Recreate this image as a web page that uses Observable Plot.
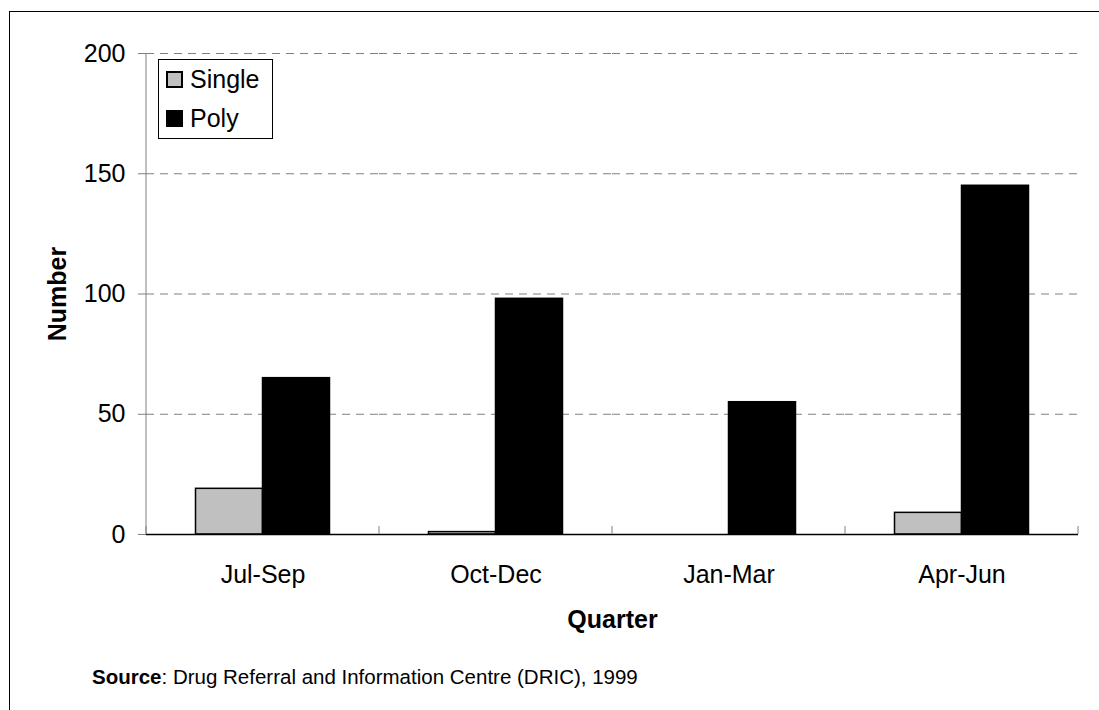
<!DOCTYPE html>
<html>
<head>
<meta charset="utf-8">
<script src="https://cdn.jsdelivr.net/npm/d3@7"></script>
<script src="https://cdn.jsdelivr.net/npm/@observablehq/plot@0.6"></script>
<style>
  html, body { margin: 0; padding: 0; background: #fff; overflow: hidden; }
  body { width: 1099px; height: 710px; position: relative; font-family: 'Liberation Sans', Arial, sans-serif; color: #000; }
  #border { position: absolute; left: 9px; top: 11px; width: 1300px; height: 900px; border: 1px solid #000; box-sizing: border-box; }
  #chart { position: absolute; left: 0; top: 0; }
  #legend { position: absolute; left: 158px; top: 59px; width: 115px; height: 80px; box-sizing: border-box; border: 1px solid #000; background: #fff; font-size: 25px; }
  .lrow { display: flex; align-items: center; height: 39px; }
  .sw { width: 17px; height: 17px; box-sizing: border-box; border: 2px solid #000; margin-left: 7px; margin-right: 7px; }
  #caption { position: absolute; left: 92px; top: 667px; font-size: 20.5px; line-height: 20px; white-space: nowrap; }
  [aria-label$="-axis label"] { font-weight: bold; }
</style>
</head>
<body>
<div id="border"></div>
<div id="chart"></div>
<div id="legend"></div>
<div id="caption"></div>
<script>
// ---- data ----
const quarters = ["Jul-Sep", "Oct-Dec", "Jan-Mar", "Apr-Jun"];
const seriesNames = ["Single", "Poly"];
const singleValues = [19, 1, 0, 9];
const polyValues = [65, 98, 55, 145];
const yTicks = [0, 50, 100, 150, 200];
const seriesColors = ["#c0c0c0", "#000000"];
const xTitle = "Quarter";
const yTitle = "Number";
const sourceLabel = "Source";
const sourceText = ": Drug Referral and Information Centre (DRIC), 1999";

const rows = [];
quarters.forEach((q, i) => {
  rows.push({quarter: q, series: seriesNames[0], value: singleValues[i]});
  rows.push({quarter: q, series: seriesNames[1], value: polyValues[i]});
});

const chart = Plot.plot({
  width: 1099,
  height: 710,
  marginLeft: 146,
  marginRight: 21,
  marginTop: 53,
  marginBottom: 176,
  style: {fontFamily: "'Liberation Sans', Arial, sans-serif", fontSize: "25px", color: "#000", background: "transparent", overflow: "visible"},
  fx: {domain: quarters, padding: 0, round: false},
  x: {domain: seriesNames, paddingInner: 0, paddingOuter: 0.739, round: false, axis: null},
  y: {domain: [0, 200]},
  color: {domain: seriesNames, range: seriesColors},
  marks: [
    Plot.gridY(yTicks.filter(v => v > 0), {stroke: "#808080", strokeOpacity: 1, strokeDasharray: "8,6"}),
    Plot.axisY(yTicks, {tickSize: 8, tickPadding: 13, stroke: "#808080", strokeOpacity: 1, fill: "#000",
      label: yTitle, labelAnchor: "center", labelOffset: 98, labelArrow: "none"}),
    Plot.axisFx({anchor: "bottom", tickSize: 0, tickPadding: 31, fill: "#000",
      label: xTitle, labelAnchor: "center", labelOffset: 93, labelArrow: "none"}),
    Plot.barY(rows, {fx: "quarter", x: "series", y: "value", fill: "series", stroke: "#000", strokeWidth: 1.5}),
    Plot.ruleY([0], {stroke: "#000", strokeWidth: 1.5})
  ]
});
document.getElementById("chart").appendChild(chart);

// axis line and category boundary ticks from the plot's own scales
const fxS = chart.scale("fx");
const yS = chart.scale("y");
const svg = d3.select(chart);
const g = svg.append("g").attr("stroke", "#808080").attr("stroke-width", 1);
const left = fxS.apply(quarters[0]);
g.append("line").attr("x1", left).attr("x2", left).attr("y1", yS.apply(0)).attr("y2", yS.apply(200));
const edges = quarters.map(q => fxS.apply(q)).concat([fxS.apply(quarters[quarters.length - 1]) + fxS.bandwidth]);
g.selectAll("line.edge").data(edges).join("line").attr("class", "edge")
  .attr("x1", d => d).attr("x2", d => d).attr("y1", yS.apply(0)).attr("y2", yS.apply(0) - 8);

// legend
const legend = document.getElementById("legend");
seriesNames.forEach((s, i) => {
  const row = document.createElement("div");
  row.className = "lrow";
  const sw = document.createElement("span");
  sw.className = "sw";
  sw.style.background = seriesColors[i];
  const t = document.createElement("span");
  t.textContent = s;
  row.appendChild(sw);
  row.appendChild(t);
  legend.appendChild(row);
});

// caption
const cap = document.getElementById("caption");
const b = document.createElement("b");
b.textContent = sourceLabel;
cap.appendChild(b);
cap.appendChild(document.createTextNode(sourceText));
</script>
</body>
</html>
